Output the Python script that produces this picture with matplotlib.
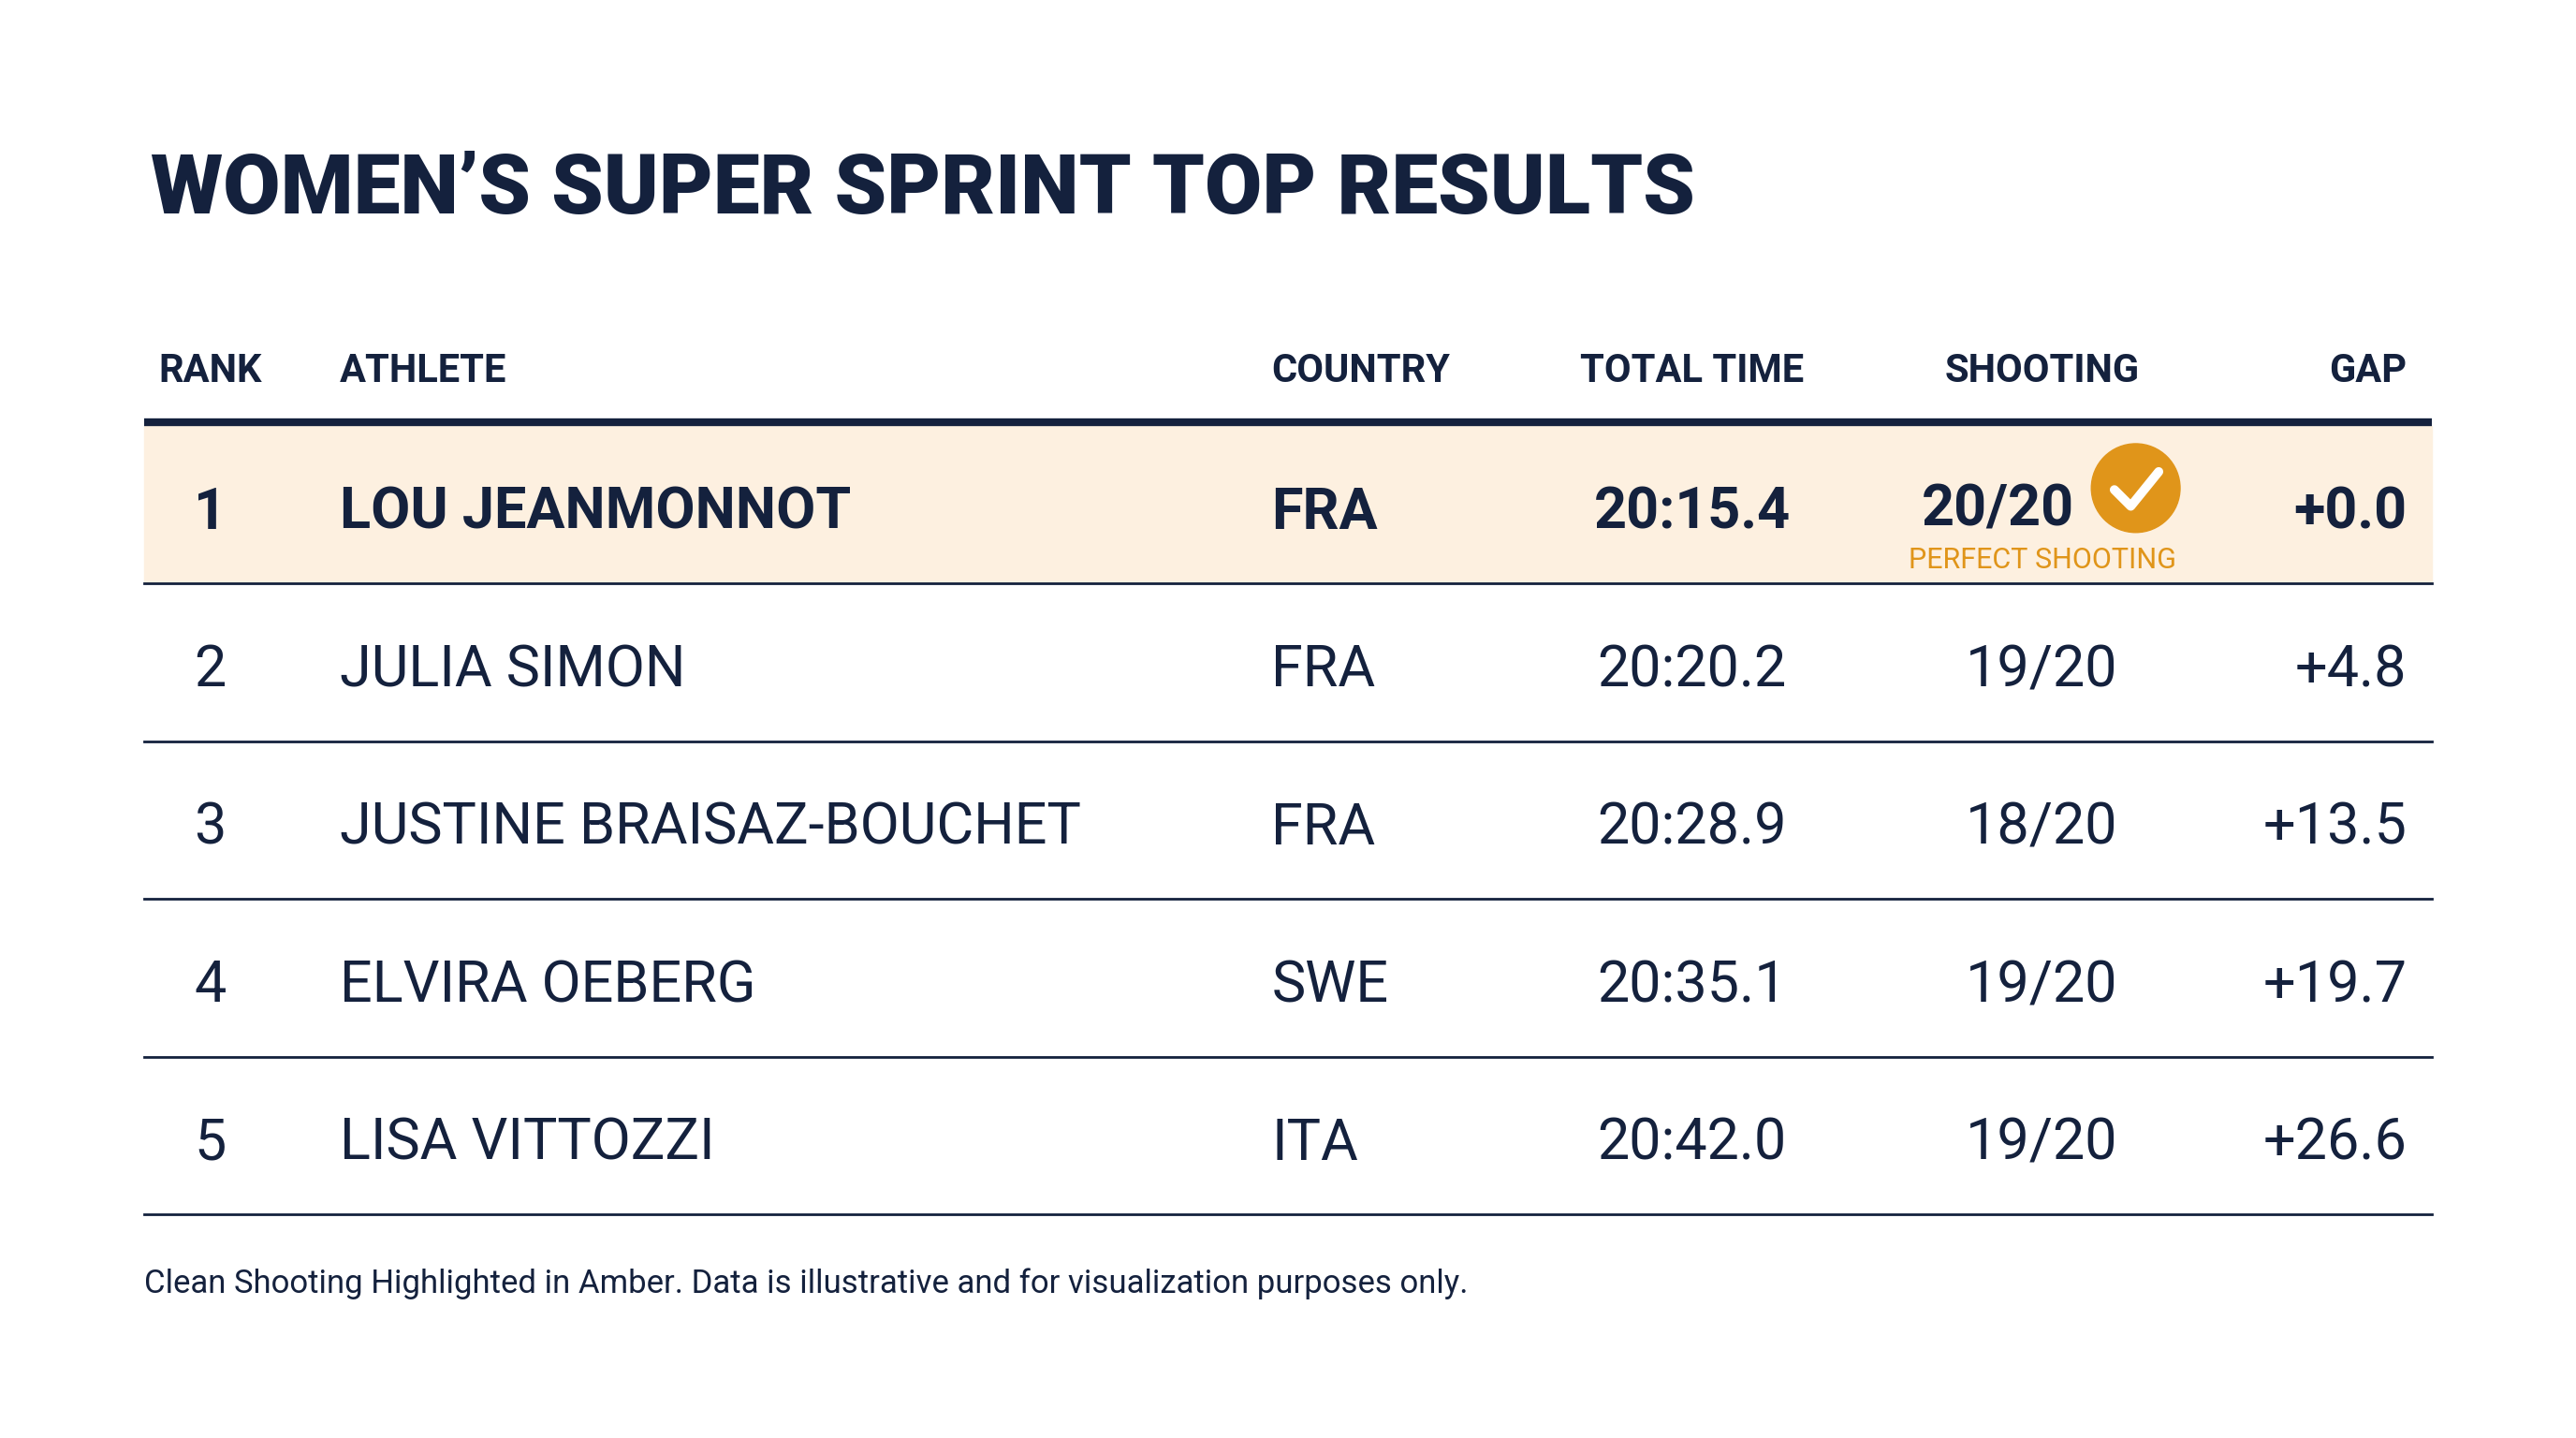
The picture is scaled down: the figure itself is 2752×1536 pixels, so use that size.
import matplotlib
matplotlib.use("Agg")
import matplotlib.pyplot as plt
from matplotlib.patches import Rectangle, Circle

# ── data ─────────────────────────────────────────────────────────────────────
TITLE    = "WOMEN\u2019S SUPER SPRINT TOP RESULTS"
HEADERS  = ["RANK", "ATHLETE", "COUNTRY", "TOTAL TIME", "SHOOTING", "GAP"]
ranks    = ["1", "2", "3", "4", "5"]
athletes = ["LOU JEANMONNOT", "JULIA SIMON", "JUSTINE BRAISAZ-BOUCHET",
            "ELVIRA OEBERG", "LISA VITTOZZI"]
countries = ["FRA", "FRA", "FRA", "SWE", "ITA"]
times    = ["20:15.4", "20:20.2", "20:28.9", "20:35.1", "20:42.0"]
shooting = ["20/20", "19/20", "18/20", "19/20", "19/20"]
gaps     = ["+0.0", "+4.8", "+13.5", "+19.7", "+26.6"]
FOOTNOTE = "Clean Shooting Highlighted in Amber. Data is illustrative and for visualization purposes only."

NAVY  = "#14213d"
AMBER = "#e0951a"
HILITE = "#fdf0e0"
plt.rcParams["font.family"] = ["Roboto", "DejaVu Sans"]

# canvas in reference-display units (1568 x 875)
W, H = 1568, 875
fig = plt.figure(figsize=(27.52, 15.36), dpi=100)
ax = fig.add_axes([0, 0, 1, 1])
ax.set_xlim(0, W); ax.set_ylim(H, 0); ax.axis("off")

ax.text(92, 116, TITLE, fontsize=64, fontweight="black", color=NAVY, va="center", ha="left")

col_x  = [128, 207, 774, 1030, 1243, 1465]
col_ha = ["center", "left", "left", "center", "center", "right"]
for hx, ha, h in zip(col_x, col_ha, HEADERS):
    ax.text(hx, 226, h, fontsize=30, fontweight="bold", color=NAVY, ha=ha, va="center")

x0, x1 = 88, 1480
row_h = 96
top = 259
ax.add_patch(Rectangle((x0, top), x1 - x0, row_h, color=HILITE, zorder=0))
ax.plot([x0, x1], [257, 257], color=NAVY, lw=6, solid_capstyle="butt")

for i in range(len(ranks)):
    yc = top + row_h * i + row_h / 2 + 5
    best = i == 0
    fw = "bold" if best else "normal"
    vals = [ranks[i], athletes[i], countries[i], times[i], shooting[i], gaps[i]]
    for j, (hx, ha, v) in enumerate(zip(col_x, col_ha, vals)):
        if j == 4 and best:
            ax.text(1216, yc - 2, v, fontsize=44, fontweight=fw, color=NAVY, ha="center", va="center")
            continue
        ax.text(hx, yc, v, fontsize=44, fontweight=fw, color=NAVY, ha=ha, va="center")
    ax.plot([x0, x1], [top + row_h * (i + 1)] * 2, color=NAVY, lw=2)

# perfect shooting badge
ax.add_patch(Circle((1300, 297), 27, color=AMBER, zorder=3))
ax.plot([1287, 1297, 1314], [298, 308, 287], color="white", lw=7,
        solid_capstyle="round", solid_joinstyle="round", zorder=4)
ax.text(1243, 341, "PERFECT SHOOTING", fontsize=22, color=AMBER, ha="center", va="center")

ax.text(88, 781, FOOTNOTE, fontsize=25, color=NAVY, ha="left", va="center")

fig.savefig("out.png", dpi=100)
